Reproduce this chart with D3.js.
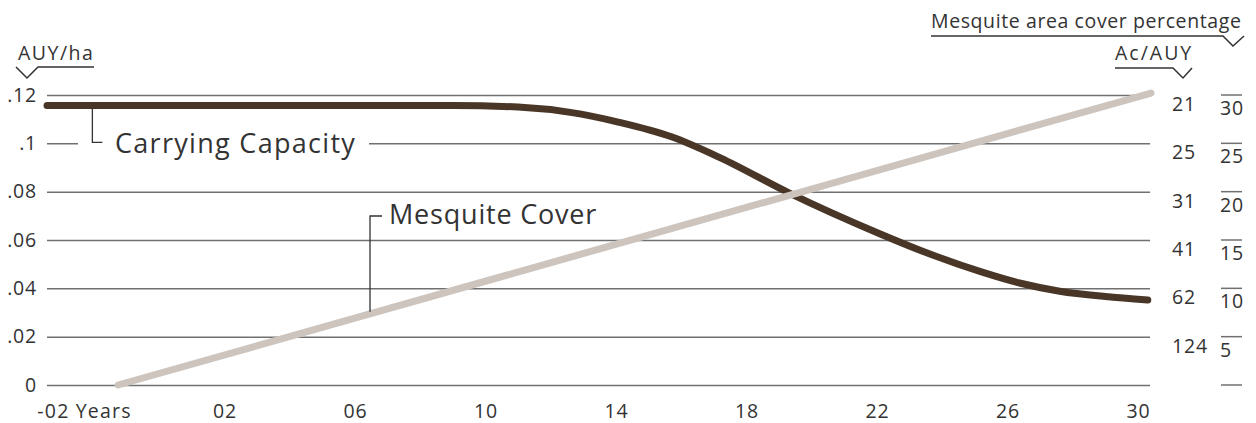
<!DOCTYPE html>
<html>
<head>
<meta charset="utf-8">
<script src="https://cdn.jsdelivr.net/npm/d3@7"></script>
<style>
  html, body { margin: 0; padding: 0; background: #fff; overflow: hidden; }
  svg { display: block; font-family: "Open Sans", Lato, sans-serif; }
</style>
</head>
<body>
<svg id="chart" width="1256" height="423"></svg>
<script>
// ---------- data ----------
const xTickYears = [-2, 2, 6, 10, 14, 18, 22, 26, 30];
const xTickLabels = ["-02 Years", "02", "06", "10", "14", "18", "22", "26", "30"];

const yTicks = [0, 0.02, 0.04, 0.06, 0.08, 0.10, 0.12];
const yTickLabels = ["0", ".02", ".04", ".06", ".08", ".1", ".12"];

const acTickLabels = ["", "124", "62", "41", "31", "25", "21"];

const pctTicks = [0, 5, 10, 15, 20, 25, 30];
const pctTickLabels = ["", "5", "10", "15", "20", "25", "30"];

// Carrying capacity (AUY/ha) by year
const ccYears  = [-3.44, 9.0, 11.0, 12.6, 14.1, 15.7, 17.2, 19.3, 22.1, 23.6, 25.2, 26.4, 27.6, 29.0, 30.3];
const ccValues = [0.1157, 0.1157, 0.1150, 0.1128, 0.1087, 0.1027, 0.0940, 0.0795, 0.0625, 0.0543, 0.0468, 0.0421, 0.0388, 0.0366, 0.0352];

// Mesquite cover (%) by year
const mqYears  = [-1.26, 30.4];
const mqValues = [0, 30.2];

// year span of gridlines
const gridYears = [-3.44, 30.37];

// ---------- scales ----------
const svg = d3.select("#chart");
const x = d3.scaleLinear().domain([-2, 30]).range([94, 1138]);
const y = d3.scaleLinear().domain([0, 0.12]).range([385, 95]);
const yPct = d3.scaleLinear().domain([0, 30]).range([385, 95]);

const textColor = "#333";
const gridColor = "#707070";
const tickFont = "19.5px";
const tickLS = "0.8px";
const gx0 = x(gridYears[0]), gx1 = x(gridYears[1]);

// ---------- gridlines + left axis ----------
const leftAxis = d3.axisLeft(y)
  .tickValues(yTicks)
  .tickFormat((d, i) => yTickLabels[i])
  .tickSize(-(gx1 - gx0))
  .tickPadding(10);

const gLeft = svg.append("g").attr("transform", `translate(${gx0},0)`).call(leftAxis);
gLeft.select(".domain").remove();
gLeft.selectAll(".tick line").attr("stroke", gridColor).attr("stroke-width", 1.5);
gLeft.selectAll(".tick text")
  .attr("fill", textColor).style("font-size", tickFont).style("font-family", "Open Sans")
  .style("letter-spacing", tickLS);

// ---------- bottom axis ----------
const bottomAxis = d3.axisBottom(x)
  .tickValues(xTickYears)
  .tickFormat((d, i) => xTickLabels[i])
  .tickSize(0)
  .tickPadding(19);
const gBottom = svg.append("g").attr("transform", "translate(0,385)").call(bottomAxis);
gBottom.select(".domain").remove();
gBottom.selectAll(".tick text")
  .attr("fill", textColor).style("font-size", tickFont).style("font-family", "Open Sans")
  .style("letter-spacing", (d, i) => i === 0 ? "1.2px" : tickLS)
  .attr("dx", (d, i) => i === 0 ? -10 : 0);

// ---------- right axis: Ac/AUY ----------
const gAc = svg.append("g");
gAc.selectAll("text").data(yTicks).join("text")
  .attr("x", 1172)
  .attr("y", d => y(d) + 16)
  .attr("fill", textColor)
  .style("font-size", tickFont)
  .style("letter-spacing", tickLS)
  .text((d, i) => acTickLabels[i]);

// ---------- right axis: mesquite cover % ----------
const gPct = svg.append("g");
gPct.selectAll("line").data(pctTicks).join("line")
  .attr("x1", 1221).attr("x2", 1242)
  .attr("y1", d => yPct(d)).attr("y2", d => yPct(d))
  .attr("stroke", gridColor).attr("stroke-width", 1.5);
gPct.selectAll("text").data(pctTicks).join("text")
  .attr("x", 1220)
  .attr("y", d => yPct(d) + 20)
  .attr("fill", textColor)
  .style("font-size", tickFont)
  .style("letter-spacing", tickLS)
  .text((d, i) => pctTickLabels[i]);

// ---------- axis titles with bracket marks ----------
function titleMark(txt, tx, ty, ls, pathD) {
  svg.append("text").attr("x", tx).attr("y", ty).attr("fill", textColor)
    .style("font-size", tickFont).style("letter-spacing", ls).text(txt);
  svg.append("path").attr("d", pathD).attr("fill", "none")
    .attr("stroke", textColor).attr("stroke-width", 1.5);
}
titleMark("AUY/ha", 18, 60, "1.5px", "M16,67 L27,78 L38,67 L94,67");
titleMark("Ac/AUY", 1115, 60, "2px", "M1115,68 L1173,68 L1183,78 L1192,68");
titleMark("Mesquite area cover percentage", 931, 28, "0.6px", "M931,36 L1223,36 L1233,46 L1244,36");

// ---------- label for carrying capacity (masks gridline) ----------
svg.append("rect").attr("x", 78).attr("y", 128).attr("width", 291).attr("height", 28).attr("fill", "#fff");

// ---------- lines ----------
const ccLine = d3.line()
  .x((d, i) => x(ccYears[i]))
  .y((d, i) => y(ccValues[i]))
  .curve(d3.curveMonotoneX);
svg.append("path").datum(ccValues).attr("d", ccLine)
  .attr("fill", "none").attr("stroke", "#4a3627").attr("stroke-width", 7)
  .attr("stroke-linecap", "round");

const mqLine = d3.line()
  .x((d, i) => x(mqYears[i]))
  .y((d, i) => yPct(mqValues[i]));
svg.append("path").datum(mqValues).attr("d", mqLine)
  .attr("fill", "none").attr("stroke", "#cdc4bd").attr("stroke-width", 7)
  .attr("stroke-linecap", "round");

// ---------- series annotations ----------
const ccLabelYear = -2.05;
const ccx = x(ccLabelYear);
svg.append("path")
  .attr("d", `M${ccx},${y(ccValues[0]) + 3} L${ccx},${y(0.1) - 1} L${ccx + 10},${y(0.1) - 1}`)
  .attr("fill", "none").attr("stroke", textColor).attr("stroke-width", 1.3);
svg.append("text").attr("x", 115).attr("y", y(0.1) + 10).attr("fill", textColor)
  .style("font-size", "27px").style("letter-spacing", "1.3px").text("Carrying Capacity");

const mqLabelYear = 6.46;
const mqx = x(mqLabelYear);
const mqAt = d3.scaleLinear().domain(mqYears).range(mqValues)(mqLabelYear);
svg.append("path")
  .attr("d", `M${mqx},${yPct(mqAt) - 2} L${mqx},216 L${mqx + 12},216`)
  .attr("fill", "none").attr("stroke", textColor).attr("stroke-width", 1.3);
svg.append("text").attr("x", 389).attr("y", 224).attr("fill", textColor)
  .style("font-size", "27px").style("letter-spacing", "0.8px").text("Mesquite Cover");
</script>
</body>
</html>
